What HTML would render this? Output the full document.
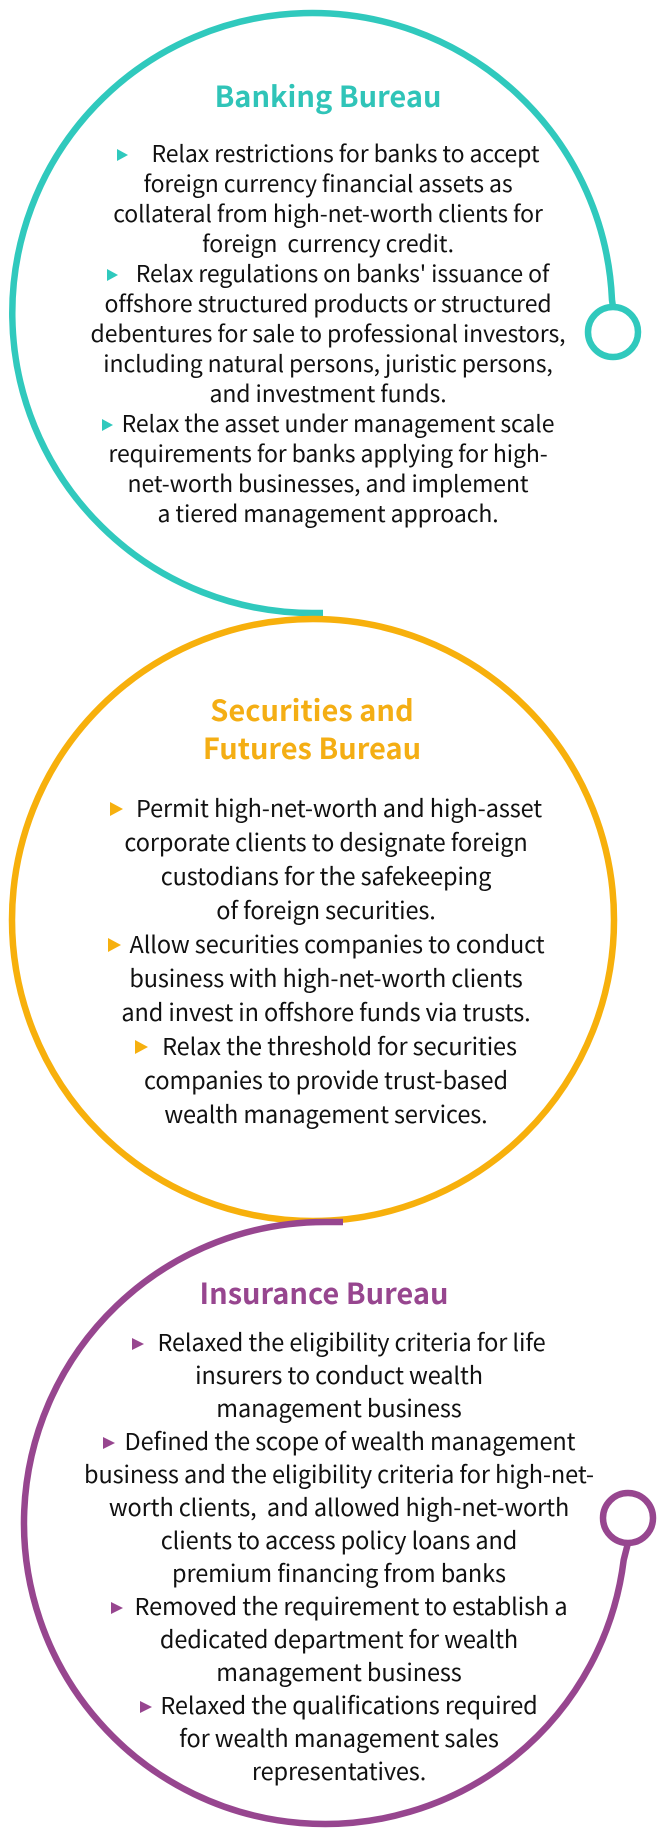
<!DOCTYPE html>
<html><head><meta charset="utf-8">
<style>
html,body{margin:0;padding:0;background:#fff;}
body{width:660px;height:1846px;position:relative;overflow:hidden;font-family:"Noto Sans CJK TC","Liberation Sans",sans-serif;color:#111;}
svg{position:absolute;left:0;top:0;}
.sec{position:absolute;width:600px;text-align:center;white-space:nowrap;}
.t{font-weight:bold;font-size:29px;line-height:38px;}
.b1{font-size:23px;line-height:30px;letter-spacing:-0.1px;}
.b2{font-size:23.5px;line-height:34px;letter-spacing:-0.1px;}
.b3{font-size:23.5px;line-height:33px;letter-spacing:-0.1px;}
.tri{display:inline-block;width:0;height:0;border-top:6px solid transparent;border-bottom:6px solid transparent;vertical-align:1px;}
.teal .tri{border-left:11px solid #2fc9bd;}
.org .tri{border-left:13px solid #f6b00f;border-top-width:7px;border-bottom-width:7px;}
.pur .tri{border-left:12px solid #97468f;}
</style></head><body>
<svg width="660" height="1846" viewBox="0 0 660 1846">
  <g fill="none" stroke-width="6.5">
    <path d="M613 307 L612 300 A300 300 0 1 0 312 613 L323 613" stroke="#30c9bd"/>
    <circle cx="613" cy="332" r="25" stroke="#30c9bd"/>
    <circle cx="313" cy="920" r="301" stroke="#f7b00c"/>
    <path d="M343 1222 L325 1222 A301 301 0 1 0 623.7 1560 L628 1543" stroke="#97468f"/>
    <circle cx="628" cy="1518" r="25" stroke="#97468f"/>
  </g>
</svg>

<div class="sec t" style="left:28px;top:76px;color:#30c4b8;">Banking Bureau</div>
<div class="sec b1 teal" style="left:28px;top:137px;"><div><span class="tri" style="margin-right:24px"></span>Relax restrictions for banks to accept</div><div>foreign currency financial assets as</div><div>collateral from high-net-worth clients for</div><div>foreign&nbsp; currency credit.</div><div><span class="tri" style="margin-right:18px"></span>Relax regulations on banks' issuance of</div><div>offshore structured products or structured</div><div>debentures for sale to professional investors,</div><div>including natural persons, juristic persons,</div><div>and investment funds.</div><div><span class="tri" style="margin-right:9px"></span>Relax the asset under management scale</div><div>requirements for banks applying for high-</div><div>net-worth businesses, and implement</div><div>a tiered management approach.</div></div>

<div class="sec t" style="left:12px;top:690px;color:#f4ae14;">Securities and<br>Futures Bureau</div>
<div class="sec b2 org" style="left:26px;top:790px;"><div><span class="tri" style="margin-right:13px"></span>Permit high-net-worth and high-asset</div><div>corporate clients to designate foreign</div><div>custodians for the safekeeping</div><div>of foreign securities.</div><div><span class="tri" style="margin-right:9px"></span>Allow securities companies to conduct</div><div>business with high-net-worth clients</div><div>and invest in offshore funds via trusts.</div><div><span class="tri" style="margin-right:14px"></span>Relax the threshold for securities</div><div>companies to provide trust-based</div><div>wealth management services.</div></div>

<div class="sec t" style="left:24px;top:1273px;color:#97468f;">Insurance Bureau</div>
<div class="sec b3 pur" style="left:39px;top:1325px;"><div><span class="tri" style="margin-right:13px"></span>Relaxed the eligibility criteria for life</div><div>insurers to conduct wealth</div><div>management business</div><div><span class="tri" style="margin-right:10px"></span>Defined the scope of wealth management</div><div>business and the eligibility criteria for high-net-</div><div>worth clients,&nbsp; and allowed high-net-worth</div><div>clients to access policy loans and</div><div>premium financing from banks</div><div><span class="tri" style="margin-right:12px"></span>Removed the requirement to establish a</div><div>dedicated department for wealth</div><div>management business</div><div><span class="tri" style="margin-right:8px"></span>Relaxed the qualifications required</div><div>for wealth management sales</div><div>representatives.</div></div>
</body></html>
